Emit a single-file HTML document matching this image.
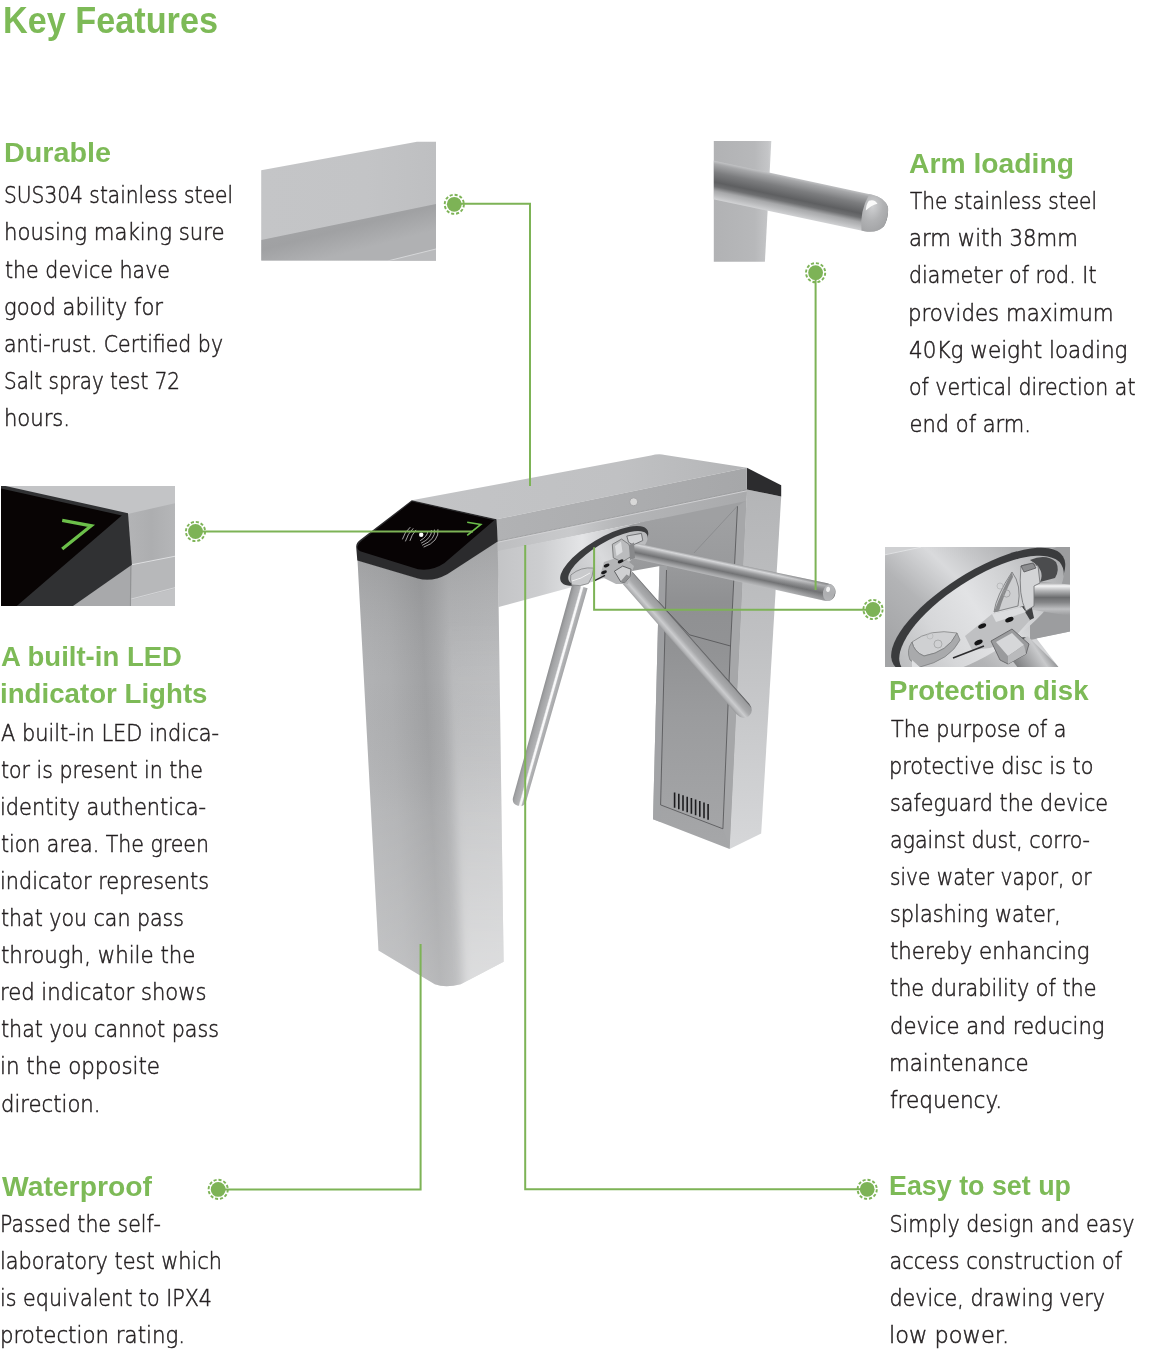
<!DOCTYPE html>
<html lang="en">
<head>
<meta charset="utf-8">
<title>Key Features</title>
<style>
html,body{margin:0;padding:0;background:#fff;}
body{width:1156px;height:1358px;overflow:hidden;position:relative;font-family:"Liberation Sans",sans-serif;}
svg.page{position:absolute;left:0;top:0;display:block;}
.txt{will-change:transform;}
.txt text{font-family:"Liberation Sans",sans-serif;}
text.t{font-weight:bold;font-size:36.5px;fill:#7dba57;}
text.h{font-weight:bold;font-size:27.4px;fill:#7dba57;}
text.b{font-family:"DejaVu Sans Light","Liberation Sans",sans-serif;font-size:22.5px;fill:#231f20;stroke:#231f20;stroke-width:0.5px;}
</style>
</head>
<body>

<svg class="page" width="1156" height="1358" viewBox="0 0 1156 1358">
<defs>
<linearGradient id="gTop" gradientUnits="userSpaceOnUse" x1="420" y1="0" x2="750" y2="0"><stop offset="0" stop-color="#c3c4c6"/><stop offset="0.6" stop-color="#c0c1c3"/><stop offset="1" stop-color="#b4b5b7"/></linearGradient>
<linearGradient id="gFront" gradientUnits="userSpaceOnUse" x1="497" y1="0" x2="747" y2="0"><stop offset="0" stop-color="#b1b2b4"/><stop offset="0.5" stop-color="#acadaf"/><stop offset="1" stop-color="#a6a7a9"/></linearGradient>
<linearGradient id="gLip" gradientUnits="userSpaceOnUse" x1="497" y1="0" x2="747" y2="0"><stop offset="0" stop-color="#bdbec0"/><stop offset="0.3" stop-color="#c9cacc"/><stop offset="0.5" stop-color="#b4b5b7"/><stop offset="1" stop-color="#a9aaac"/></linearGradient>
<linearGradient id="gCham" gradientUnits="userSpaceOnUse" x1="497" y1="0" x2="747" y2="0"><stop offset="0" stop-color="#c3c4c6"/><stop offset="0.18" stop-color="#cdced0"/><stop offset="0.34" stop-color="#e4e5e7"/><stop offset="0.44" stop-color="#d0d1d3"/><stop offset="0.56" stop-color="#a8a9ab"/><stop offset="1" stop-color="#98999b"/></linearGradient>
<linearGradient id="gInner" gradientUnits="userSpaceOnUse" x1="0" y1="520" x2="0" y2="850"><stop offset="0" stop-color="#9fa0a2"/><stop offset="0.12" stop-color="#9a9b9d"/><stop offset="0.25" stop-color="#8f9092"/><stop offset="0.4" stop-color="#929395"/><stop offset="0.6" stop-color="#9b9c9e"/><stop offset="1" stop-color="#a6a7a9"/></linearGradient>
<linearGradient id="gRight" gradientUnits="userSpaceOnUse" x1="0" y1="490" x2="0" y2="850"><stop offset="0" stop-color="#b4b5b7"/><stop offset="0.4" stop-color="#bfc0c2"/><stop offset="1" stop-color="#d6d7d9"/></linearGradient>
<linearGradient id="gLP" gradientUnits="userSpaceOnUse" x1="358" y1="760" x2="503" y2="752.75"><stop offset="0" stop-color="#b3b4b6"/><stop offset="0.25" stop-color="#adaeb0"/><stop offset="0.49" stop-color="#a0a1a3"/><stop offset="0.58" stop-color="#a8a9ab"/><stop offset="0.68" stop-color="#b5b6b8"/><stop offset="1" stop-color="#b9babc"/></linearGradient>
<linearGradient id="gLPv" gradientUnits="userSpaceOnUse" x1="0" y1="545" x2="0" y2="990"><stop offset="0" stop-color="#000" stop-opacity="0.11"/><stop offset="0.3" stop-color="#777" stop-opacity="0"/><stop offset="0.6" stop-color="#fff" stop-opacity="0.09"/><stop offset="1" stop-color="#fff" stop-opacity="0.24"/></linearGradient>
<linearGradient id="gLPv2" gradientUnits="userSpaceOnUse" x1="0" y1="620" x2="0" y2="990"><stop offset="0" stop-color="#fff" stop-opacity="0"/><stop offset="1" stop-color="#fff" stop-opacity="0.4"/></linearGradient>
<filter id="fBlur5" x="-20%" y="-5%" width="140%" height="110%"><feGaussianBlur stdDeviation="5 2"/></filter>
<clipPath id="cLP"><path d="M357.3 556L378.5 950.4L434.8 984.2Q445.5 988.5 460.7 984.2L503.6 961.7L497.7 541L447.3 573.8Q432 582 417.9 578.1L357.3 560Z"/></clipPath>
<linearGradient id="gTube" x1="0" y1="0" x2="0" y2="1"><stop offset="0" stop-color="#b5b6b8"/><stop offset="0.18" stop-color="#8b8c8e"/><stop offset="0.45" stop-color="#6a6b6d"/><stop offset="0.62" stop-color="#5c5d5f"/><stop offset="0.78" stop-color="#9c9d9f"/><stop offset="1" stop-color="#c8c9cb"/></linearGradient>
<linearGradient id="gTube1" x1="0" y1="0" x2="0" y2="1"><stop offset="0" stop-color="#8f9092"/><stop offset="0.16" stop-color="#d6d7d9"/><stop offset="0.36" stop-color="#9b9c9e"/><stop offset="0.6" stop-color="#727375"/><stop offset="0.84" stop-color="#a3a4a6"/><stop offset="1" stop-color="#bcbdbf"/></linearGradient>
<linearGradient id="gTube1e" gradientUnits="userSpaceOnUse" x1="150" y1="0" x2="205" y2="0"><stop offset="0" stop-color="#6e6f71" stop-opacity="0"/><stop offset="1" stop-color="#6e6f71" stop-opacity="0.45"/></linearGradient>
<linearGradient id="gTube2" x1="0" y1="0" x2="0" y2="1"><stop offset="0" stop-color="#a2a3a5"/><stop offset="0.24" stop-color="#b4b5b7"/><stop offset="0.31" stop-color="#f8f8f9"/><stop offset="0.4" stop-color="#f8f8f9"/><stop offset="0.48" stop-color="#b2b3b5"/><stop offset="0.8" stop-color="#a2a3a5"/><stop offset="1" stop-color="#8b8c8e"/></linearGradient>
<linearGradient id="gTube3" x1="0" y1="0" x2="0" y2="1"><stop offset="0" stop-color="#47484a"/><stop offset="0.1" stop-color="#9a9b9d"/><stop offset="0.45" stop-color="#a9aaac"/><stop offset="0.7" stop-color="#cbccce"/><stop offset="0.88" stop-color="#b2b3b5"/><stop offset="1" stop-color="#98999b"/></linearGradient>
<linearGradient id="gDisk" x1="0" y1="0.5" x2="1" y2="0.5"><stop offset="0" stop-color="#c2c3c5"/><stop offset="0.45" stop-color="#d9dadc"/><stop offset="1" stop-color="#b6b7b9"/></linearGradient>
</defs>

<!-- ===== main turnstile ===== -->
<g id="turnstile">
<!-- right post -->
<path d="M746.9 489.5L781.2 496.4L761.2 833.6L729.6 848.9Z" fill="url(#gRight)"/>
<path d="M640 520L746.9 489.5L729.6 848.9L653 819.2L659.5 566L640 566Z" fill="url(#gInner)"/>
<path d="M659.5 566L653 819.2L660.5 822L667 566Z" fill="#a3a4a6" opacity="0.7"/>

<g stroke="#1c1c1e" stroke-width="1.6">
<path d="M674.6 792.4V807.7M678.8 793.8V809.2M683 795.3V810.7M687.2 796.7V812.2M691.4 798.1V813.7M695.6 799.6V815.2M699.8 801V816.7M704 802.5V818.3M708.1 803.9V819.8"/>
</g>
<!-- black cap -->
<path d="M746.9 467.7L781.2 485.2L781.2 496.4L746.9 489.5Z" fill="#2c2c2e"/>
<!-- beam -->
<path d="M411.8 500.3L651 455.5Q658 453.6 665 454.9L746.9 467.7L496.6 519.3Z" fill="url(#gTop)"/>
<path d="M496.6 519.3L746.9 467.7L746.9 489.7L497.4 541.2Z" fill="url(#gFront)"/>
<path d="M497.4 541.2L746.9 489.7L746 501L497.6 552Z" fill="url(#gLip)"/>
<path d="M497.6 551L646.6 521.5L646.6 566L629.4 571.4L498.6 607Z" fill="url(#gCham)"/>
<path d="M630 525L661 518.5L660 566L629.4 571.4L618 560Z" fill="url(#gInner)"/>
<path d="M497.4 541.3L746.9 489.8" stroke="#8e8f91" stroke-width="0.7" fill="none"/><path d="M497.4 542.3L746.9 490.8" stroke="#d2d3d5" stroke-width="0.9" fill="none"/>
<circle cx="633.7" cy="501.8" r="4" fill="#d8d8d8" stroke="#9a9b9d" stroke-width="0.8"/>
<path d="M737.5 506L746.3 500.6L729.6 848.9L722.9 828.8L730.5 646Z" fill="#a6a7a9"/>
<g fill="none" stroke="#505153" stroke-width="0.8">
<path d="M666.5 570L660.6 804.9L722.9 828.8L730.5 646L737.5 506"/>
<path d="M656.8 600L689.4 634.8L730.5 646"/>
<path d="M737.5 506L694 553" stroke="#88898b"/>
</g>

<!-- disk -->
<g transform="translate(604.2 555.8) rotate(-30.9)">
<ellipse rx="50.3" ry="17.5" fill="#3b3c3e"/>
<ellipse cx="2.2" cy="3.6" rx="45.4" ry="15.2" fill="url(#gDisk)"/>
</g>
<!-- arm 2 (down-left) -->
<g transform="translate(580 586) rotate(105.8)">
<path d="M0 -7.9L222 -6.8Q228.5 -6.3 228.5 0Q228.5 6.3 222 6.8L0 7.9Z" fill="url(#gTube2)"/>
</g>
<!-- arm 3 (down-right) -->
<g transform="translate(626.8 577) rotate(48.66)">
<path d="M0 -7.7L176 -8.2Q185 -7.6 185 0Q185 7.6 176 8.2L0 7.7Z" fill="url(#gTube3)"/>
</g>
<!-- arm 1 (right) -->
<g transform="translate(631 549.8) rotate(12.2)">
<path d="M0 -7.8L199 -8.8Q209 -8.5 209 0Q209 8.5 199 8.8L0 7.8Z" fill="url(#gTube1)"/>
<path d="M150 -8.6L199 -8.8Q209 -8.5 209 0Q209 8.5 199 8.8L150 8.6Z" fill="url(#gTube1e)"/>
<ellipse cx="202.5" cy="0" rx="6" ry="8.3" fill="#b9babc" opacity="0.85"/>
<ellipse cx="201" cy="-3" rx="2" ry="2.6" fill="#f2f2f2"/>
</g>
<!-- hub -->
<g stroke-linejoin="round">
<path d="M604 562L622 556L634 566L628 584L616 584L600 576Z" fill="#b4b5b7"/>
<path d="M612.3 544.3L621.6 539.1L628.9 544.3L632 556L622 562L613.3 557.8Z" fill="#bbbcbe" stroke="#6c6d6f" stroke-width="0.8"/>
<path d="M615 546L621 541.5L622.5 552L616.5 556Z" fill="#dcdddf"/>
<path d="M626.8 536L641.4 533.4L642.8 540.5L633 545L628.5 542.2Z" fill="#d2d3d5" stroke="#5c5d5f" stroke-width="0.8"/>
<path d="M629 545L634 542.5L635 558L630 560Z" fill="#88898b"/>
<path d="M614.4 571.2L622.7 566.1L631 569.2L630 576.4L624.7 582.7L620.6 581.6Z" fill="#cfd0d2" stroke="#4a4b4d" stroke-width="0.8"/>
<path d="M620.6 581.6L624.7 582.7L630 576.4L626.5 574.5Z" fill="#8e8f91"/>
<ellipse cx="606.6" cy="565.5" rx="3.1" ry="1.6" fill="#19191b" transform="rotate(-25 606.6 565.5)"/>
<ellipse cx="620.6" cy="561.4" rx="3.1" ry="1.6" fill="#19191b" transform="rotate(-25 620.6 561.4)"/>
<ellipse cx="604" cy="572.3" rx="3.1" ry="1.6" fill="#19191b" transform="rotate(-25 604 572.3)"/>
<path d="M570.8 575Q581 566.5 593.6 568.1Q593 577 588.4 583.5Q580 587 571.8 585Q569.8 580 570.8 575Z" fill="#c9cacc" stroke="#77787a" stroke-width="0.7"/>
<path d="M572 581Q581 579 590 573" fill="none" stroke="#f0f0f0" stroke-width="1"/>
<path d="M594.6 580.6L605 575.4" stroke="#2a2a2c" stroke-width="1.3" fill="none"/>
</g>
<!-- left post -->
<path d="M357.3 556L378.5 950.4L434.8 984.2Q445.5 988.5 460.7 984.2L503.6 961.7L497.7 541L447.3 573.8Q432 582 417.9 578.1L357.3 560Z" fill="url(#gLP)"/>
<path d="M357.3 556L378.5 950.4L434.8 984.2Q445.5 988.5 460.7 984.2L503.6 961.7L497.7 541L447.3 573.8Q432 582 417.9 578.1L357.3 560Z" fill="url(#gLPv)"/>
<g clip-path="url(#cLP)"><path d="M445 578L464 1000L520 1000L510 530Z" fill="url(#gLPv2)" filter="url(#fBlur5)"/></g>
<!-- bezel + black panel -->
<path d="M411.8 500.3L496.6 519.3L497.7 541.4L447.3 574.2Q432 582.5 417.9 578.5L357.3 560.4L356.2 547Q356 543 360 540Z" fill="#2b2b2d"/>
<path d="M412 501.6L494.2 520.2L444.5 563Q432 571.5 418 569.2L361 551.6Q355.8 549.5 358.2 545Q359.5 542.5 362 540.6Z" fill="#070304"/>
<!-- rfid icon -->
<g fill="none" stroke="#e8e8e8" stroke-width="0.7" stroke-linecap="round">
<circle cx="421.2" cy="534.8" r="2.2" fill="#fff" stroke="none"/>
<path d="M415.8 530.2Q411.5 535 410 540.5M413 528.6Q407.5 534 405.5 541M410 527.4Q404.5 532 402.5 539"/>
<path d="M427.8 531.5Q427.5 536.5 420.5 540.5M431.5 530.5Q432 538 421.5 543M434.5 530Q436 539.5 422.5 545.2M438 529.6Q439.5 541.5 424 547"/>
</g>
<path d="M467.2 522.2L480.8 524.4L467.2 535.4" fill="none" stroke="#6bbf4a" stroke-width="1.6"/>
</g>

<defs>
<clipPath id="cDur"><path d="M261.2 170.2L417 141.8L436 141.8L436 260.6L261.2 260.6Z"/></clipPath>
<linearGradient id="gDurTop" gradientUnits="userSpaceOnUse" x1="261" y1="0" x2="436" y2="0"><stop offset="0" stop-color="#c4c5c7"/><stop offset="0.6" stop-color="#c3c4c6"/><stop offset="1" stop-color="#bebfc1"/></linearGradient>
<linearGradient id="gDurFr" gradientUnits="userSpaceOnUse" x1="300" y1="215" x2="312" y2="262"><stop offset="0" stop-color="#a4a5a7"/><stop offset="0.5" stop-color="#a0a1a3"/><stop offset="1" stop-color="#b0b1b3"/></linearGradient>
<linearGradient id="gArmBox" gradientUnits="userSpaceOnUse" x1="714" y1="0" x2="772" y2="0"><stop offset="0" stop-color="#b1b2b4"/><stop offset="0.7" stop-color="#b7b8ba"/><stop offset="0.93" stop-color="#c4c5c7"/><stop offset="1" stop-color="#d0d1d3"/></linearGradient>
<linearGradient id="gArmT" x1="0" y1="0" x2="0" y2="1"><stop offset="0" stop-color="#c3c4c6"/><stop offset="0.08" stop-color="#a6a7a9"/><stop offset="0.3" stop-color="#7c7d7f"/><stop offset="0.55" stop-color="#5e5f61"/><stop offset="0.66" stop-color="#6e6f71"/><stop offset="0.78" stop-color="#a7a8aa"/><stop offset="0.92" stop-color="#c2c3c5"/><stop offset="1" stop-color="#d2d3d5"/></linearGradient>
<radialGradient id="gArmCap" cx="0.35" cy="0.3" r="0.8"><stop offset="0" stop-color="#cfd0d2"/><stop offset="0.5" stop-color="#b1b2b4"/><stop offset="1" stop-color="#a0a1a3"/></radialGradient>
</defs>
<!-- Durable thumbnail -->
<g clip-path="url(#cDur)">
<rect x="261" y="141" width="176" height="120" fill="url(#gDurTop)"/>
<path d="M261.2 239.9L436 204L436 261L261.2 261Z" fill="url(#gDurFr)"/>
<path d="M388.4 261L436 249.2L436 261Z" fill="#b9babc"/>
<path d="M388.4 260.8L436 249" stroke="#d6d7d9" stroke-width="1" fill="none"/>
</g>
<!-- Arm thumbnail -->
<path d="M713.8 140.9L771.3 140.9L764.9 261.8L713.8 261.8Z" fill="url(#gArmBox)"/>
<clipPath id="cArm"><rect x="713.8" y="130" width="190" height="140"/></clipPath>
<g clip-path="url(#cArm)"><g transform="translate(713.8 180) rotate(12.05)">
<path d="M-6 -19L158 -18.6Q170 -18.6 176 -10Q179 0 176 10Q170 18.6 158 18.6L-6 19Z" fill="url(#gArmT)"/>
<path d="M155 -18.6Q149 0 155 18.6L158 18.6Q170 18.6 176 10Q179 0 176 -10Q170 -18.6 158 -18.6Z" fill="url(#gArmCap)"/>
<path d="M156 -12Q161 -15 165 -11Q159 -8 155 -2Q154 -8 156 -12Z" fill="#fafafa"/>
</g></g>
<!-- LED thumbnail -->
<defs>
<clipPath id="cLed"><rect x="1" y="486" width="174.1" height="120"/></clipPath>
<linearGradient id="gLedR" gradientUnits="userSpaceOnUse" x1="128" y1="0" x2="175" y2="0"><stop offset="0" stop-color="#b3b4b6"/><stop offset="0.5" stop-color="#adaeb0"/><stop offset="1" stop-color="#b5b6b8"/></linearGradient>
</defs>
<g clip-path="url(#cLed)">
<rect x="1" y="486" width="175" height="120" fill="#c3c4c6"/>
<!-- right panel -->
<path d="M127.5 514L175.2 503.2L175.2 606L127.5 606Z" fill="url(#gLedR)"/>
<path d="M131.5 565.5L175.2 557L175.2 606L130.5 606Z" fill="#b7b8ba"/>
<path d="M130.5 600L175.2 588.4L175.2 606L130.5 606Z" fill="#c2c3c5"/>
<path d="M131.7 564.8L175.2 556.2" stroke="#dedfe1" stroke-width="1.1" fill="none"/>
<path d="M130.5 599.2L175.2 587.6" stroke="#d4d5d7" stroke-width="1" fill="none"/>
<!-- under bevel grey -->
<path d="M72.3 606L131.7 564.5L131 606Z" fill="#a8a9ab"/>
<path d="M130.8 565L130.4 606" stroke="#8a8b8d" stroke-width="0.8" fill="none"/>
<!-- bevel -->
<path d="M1 485L128 513.2L131.9 564.8L72.3 606.5L1 606.5Z" fill="#303133"/>
<!-- black glass -->
<path d="M1 488.6L121.8 515.4L16.2 606.5L1 606.5Z" fill="#080404"/>
<path d="M62.2 520.3L91.2 525.8L62.2 549" fill="none" stroke="#6cc04a" stroke-width="3.3" stroke-linejoin="miter"/>
</g>
<!-- Disk thumbnail -->
<defs>
<clipPath id="cDisk"><path d="M885 547L1070 547L1070 631.5L1036.5 638.5L1058.5 667L885 667Z"/></clipPath>
<linearGradient id="gDkBg" gradientUnits="userSpaceOnUse" x1="900" y1="660" x2="1010" y2="545"><stop offset="0" stop-color="#a3a4a6"/><stop offset="0.35" stop-color="#b3b4b6"/><stop offset="0.62" stop-color="#d9dadc"/><stop offset="0.8" stop-color="#c4c5c7"/><stop offset="1" stop-color="#b0b1b3"/></linearGradient>
<linearGradient id="gDkIn" x1="0" y1="0.5" x2="1" y2="0.5"><stop offset="0" stop-color="#bcbdbf"/><stop offset="0.25" stop-color="#d6d7d9"/><stop offset="0.5" stop-color="#e2e3e5"/><stop offset="0.75" stop-color="#cdced0"/><stop offset="1" stop-color="#acadaf"/></linearGradient>
<linearGradient id="gDkA1" gradientUnits="userSpaceOnUse" x1="0" y1="582" x2="0" y2="615"><stop offset="0" stop-color="#98999b"/><stop offset="0.12" stop-color="#f4f4f5"/><stop offset="0.27" stop-color="#b2b3b5"/><stop offset="0.47" stop-color="#6c6d6f"/><stop offset="0.62" stop-color="#858688"/><stop offset="0.82" stop-color="#bebfc1"/><stop offset="1" stop-color="#9d9ea0"/></linearGradient>
<linearGradient id="gDkA3" gradientUnits="userSpaceOnUse" x1="1012" y1="658" x2="1040" y2="640"><stop offset="0" stop-color="#7f8082"/><stop offset="0.4" stop-color="#a6a7a9"/><stop offset="0.75" stop-color="#c9cacc"/><stop offset="1" stop-color="#9a9b9d"/></linearGradient>
</defs>
<g clip-path="url(#cDisk)">
<rect x="885" y="547" width="186" height="121" fill="url(#gDkBg)"/>
<path d="M885 554.5L920.5 547L885 547Z" fill="#cfd0d2"/>
<path d="M885 554.8L921 547.2" stroke="#e6e7e9" stroke-width="0.8" fill="none"/>
<!-- underside region right -->
<path d="M1030 560L1071 540L1071 632L1030 640Z" fill="#9c9d9f"/>
<!-- ring -->
<g transform="translate(978.2 610.4) rotate(-32.6)"><ellipse rx="100.5" ry="37.6" fill="#3a3b3d"/></g>
<g transform="translate(981.5 616) rotate(-32.9)"><ellipse rx="95" ry="37" fill="url(#gDkIn)"/></g>
<!-- arm 3 tube -->
<ellipse cx="1019" cy="647" rx="13" ry="8" fill="#48494b" transform="rotate(-32 1019 647)"/>
<path d="M1027.6 636L1060 668L1018 668L1006 652Z" fill="url(#gDkA3)"/>
<!-- arm 1 tube -->
<path d="M1031 581L1071 584.5L1071 616.2L1028 609Z" fill="url(#gDkA1)"/>
<!-- shadows -->
<path d="M1030 560Q1046 553 1056 562Q1060 570 1055 578L1040 582Q1046 570 1030 560Z" fill="#4b4c4e"/>
<path d="M1020 607L1031 604L1034 618L1024 623Z" fill="#3f4042"/>
<!-- collar -->
<path d="M1021 566Q1030 562 1038 566L1040 583L1034 586L1034 606L1026 611Q1018 596 1021 566Z" fill="#d3d4d6" stroke="#77787a" stroke-width="0.9"/>
<path d="M1021 566L1033 563L1036 568L1024 572Z" fill="#8d8e90" stroke="#4a4b4d" stroke-width="0.7"/>
<!-- triangle piece -->
<path d="M1012 572Q1022 585 1018 606L994 612Q996 596 1012 572Z" fill="#cdced0" stroke="#7c7d7f" stroke-width="0.9"/>
<path d="M1012 572Q1002 590 994 612L999 611Q1004 594 1013 577Z" fill="#88898b"/>
<circle cx="1006.5" cy="593.5" r="3.6" fill="none" stroke="#9a9b9d" stroke-width="0.8"/>
<circle cx="1000" cy="586" r="3" fill="none" stroke="#b0b1b3" stroke-width="0.7"/>
<!-- central plate -->
<path d="M965 636L992 614L1022 607L1030 620L1012 640L990 648L972 650Z" fill="#bfc0c2"/>
<path d="M992 614L1022 607L1026 612L996 622Z" fill="#dcdddf"/>
<!-- holes -->
<ellipse cx="982.2" cy="626" rx="4.2" ry="2.3" fill="#161617" transform="rotate(-24 982.2 626)"/>
<ellipse cx="1009.4" cy="619.7" rx="4.4" ry="2.3" fill="#161617" transform="rotate(-24 1009.4 619.7)"/>
<ellipse cx="978.5" cy="642.4" rx="4.4" ry="2.4" fill="#161617" transform="rotate(-24 978.5 642.4)"/>
<!-- square bracket -->
<path d="M991 641L1012 629L1029 644L1026 654L1008 664L1000 660Z" fill="#9a9b9d" stroke="#5a5b5d" stroke-width="0.8"/>
<path d="M996 642L1012 633L1024 645L1008 656Z" fill="#d6d7d9"/>
<path d="M1008 656L1024 645L1026 654L1008 664Z" fill="#b9babc"/>
<!-- dome bottom-left -->
<path d="M912 642Q930 628 957 633Q948 652 924 656Q914 652 912 642Z" fill="#cfd0d2" stroke="#8c8d8f" stroke-width="0.9"/>
<path d="M912 642Q914 652 924 656Q948 652 957 633L960 640Q950 660 920 667L910 660Q906 650 912 642Z" fill="#a9aaac" stroke="#77787a" stroke-width="0.7"/>
<circle cx="938" cy="644" r="4" fill="none" stroke="#a2a3a5" stroke-width="0.8"/>
<circle cx="930" cy="636" r="3" fill="none" stroke="#b5b6b8" stroke-width="0.7"/>
<path d="M953 658L984 646" stroke="#2c2c2e" stroke-width="1.6" fill="none"/>
<path d="M912 660L920 667L912 667Z" fill="#e0e1e3"/>
</g>

<defs>
<g id="dot"><circle r="7.4" fill="#7db356"/><circle r="9.6" fill="none" stroke="#7db356" stroke-width="1.9" stroke-dasharray="3.1 1.927"/></g>
</defs>
<g fill="none" stroke="#7db356" stroke-width="2">
<path d="M454.3 203.8H530V486"/>
<path d="M815.6 272.7V590"/>
<path d="M195.5 531.6H473"/>
<path d="M873 609.7H594.1V547.2"/>
<path d="M218.2 1189.4H420.6V944"/>
<path d="M867.2 1189.3H525.2V545"/>
</g>
<use href="#dot" x="454.3" y="204.3"/>
<use href="#dot" x="815.6" y="272.7"/>
<use href="#dot" x="195.5" y="531.5"/>
<use href="#dot" x="873" y="609.5"/>
<use href="#dot" x="218.2" y="1189.4"/>
<use href="#dot" x="867.2" y="1189.3"/>

<g class="txt">
<text class="t" x="2.98" y="32.60" textLength="215.04" lengthAdjust="spacingAndGlyphs">Key Features</text>
<text class="h" x="3.98" y="162.40" textLength="107.03" lengthAdjust="spacingAndGlyphs">Durable</text>
<text class="b" x="3.99" y="203.40" textLength="229.02" lengthAdjust="spacingAndGlyphs">SUS304 stainless steel</text>
<text class="b" x="3.99" y="240.45" textLength="220.52" lengthAdjust="spacingAndGlyphs">housing making sure</text>
<text class="b" x="5.00" y="277.50" textLength="165.00" lengthAdjust="spacingAndGlyphs">the device have</text>
<text class="b" x="4.00" y="314.55" textLength="159.00" lengthAdjust="spacingAndGlyphs">good ability for</text>
<text class="b" x="4.00" y="351.60" textLength="219.01" lengthAdjust="spacingAndGlyphs">anti-rust. Certified by</text>
<text class="b" x="3.99" y="388.65" textLength="176.02" lengthAdjust="spacingAndGlyphs">Salt spray test 72</text>
<text class="b" x="3.93" y="425.70" textLength="66.13" lengthAdjust="spacingAndGlyphs">hours.</text>
<text class="h" x="908.99" y="172.60" textLength="165.02" lengthAdjust="spacingAndGlyphs">Arm loading</text>
<text class="b" x="910.00" y="209.30" textLength="187.00" lengthAdjust="spacingAndGlyphs">The stainless steel</text>
<text class="b" x="908.99" y="246.40" textLength="169.02" lengthAdjust="spacingAndGlyphs">arm with 38mm</text>
<text class="b" x="909.00" y="283.40" textLength="187.50" lengthAdjust="spacingAndGlyphs">diameter of rod. It</text>
<text class="b" x="907.98" y="320.50" textLength="205.54" lengthAdjust="spacingAndGlyphs">provides maximum</text>
<text class="b" x="909.00" y="357.60" textLength="218.51" lengthAdjust="spacingAndGlyphs">40Kg weight loading</text>
<text class="b" x="909.00" y="394.70" textLength="226.50" lengthAdjust="spacingAndGlyphs">of vertical direction at</text>
<text class="b" x="909.49" y="431.80" textLength="121.54" lengthAdjust="spacingAndGlyphs">end of arm.</text>
<text class="h" x="1.00" y="666.40" textLength="181.00" lengthAdjust="spacingAndGlyphs">A built-in LED</text>
<text class="h" x="-0.02" y="703.40" textLength="207.53" lengthAdjust="spacingAndGlyphs">indicator Lights</text>
<text class="b" x="1.00" y="740.50" textLength="218.00" lengthAdjust="spacingAndGlyphs">A built-in LED indica-</text>
<text class="b" x="1.00" y="777.60" textLength="202.00" lengthAdjust="spacingAndGlyphs">tor is present in the</text>
<text class="b" x="-0.01" y="814.70" textLength="206.01" lengthAdjust="spacingAndGlyphs">identity authentica-</text>
<text class="b" x="1.00" y="851.80" textLength="208.01" lengthAdjust="spacingAndGlyphs">tion area. The green</text>
<text class="b" x="-0.01" y="888.90" textLength="209.02" lengthAdjust="spacingAndGlyphs">indicator represents</text>
<text class="b" x="1.00" y="926.00" textLength="183.01" lengthAdjust="spacingAndGlyphs">that you can pass</text>
<text class="b" x="1.00" y="963.10" textLength="194.51" lengthAdjust="spacingAndGlyphs">through, while the</text>
<text class="b" x="-0.02" y="1000.20" textLength="206.53" lengthAdjust="spacingAndGlyphs">red indicator shows</text>
<text class="b" x="1.00" y="1037.30" textLength="218.00" lengthAdjust="spacingAndGlyphs">that you cannot pass</text>
<text class="b" x="-0.02" y="1074.40" textLength="160.04" lengthAdjust="spacingAndGlyphs">in the opposite</text>
<text class="b" x="0.98" y="1111.50" textLength="99.55" lengthAdjust="spacingAndGlyphs">direction.</text>
<text class="h" x="2.00" y="1195.50" textLength="150.00" lengthAdjust="spacingAndGlyphs">Waterproof</text>
<text class="b" x="-0.01" y="1232.10" textLength="161.01" lengthAdjust="spacingAndGlyphs">Passed the self-</text>
<text class="b" x="-0.01" y="1269.20" textLength="222.03" lengthAdjust="spacingAndGlyphs">laboratory test which</text>
<text class="b" x="-0.01" y="1306.30" textLength="212.02" lengthAdjust="spacingAndGlyphs">is equivalent to IPX4</text>
<text class="b" x="-0.03" y="1343.40" textLength="185.07" lengthAdjust="spacingAndGlyphs">protection rating.</text>
<text class="h" x="889.00" y="700.40" textLength="199.50" lengthAdjust="spacingAndGlyphs">Protection disk</text>
<text class="b" x="891.00" y="736.60" textLength="175.50" lengthAdjust="spacingAndGlyphs">The purpose of a</text>
<text class="b" x="888.98" y="773.70" textLength="204.53" lengthAdjust="spacingAndGlyphs">protective disc is to</text>
<text class="b" x="890.00" y="810.80" textLength="218.00" lengthAdjust="spacingAndGlyphs">safeguard the device</text>
<text class="b" x="890.00" y="847.90" textLength="200.00" lengthAdjust="spacingAndGlyphs">against dust, corro-</text>
<text class="b" x="890.01" y="885.00" textLength="201.50" lengthAdjust="spacingAndGlyphs">sive water vapor, or</text>
<text class="b" x="889.99" y="922.20" textLength="171.02" lengthAdjust="spacingAndGlyphs">splashing water,</text>
<text class="b" x="890.00" y="959.30" textLength="199.50" lengthAdjust="spacingAndGlyphs">thereby enhancing</text>
<text class="b" x="890.00" y="996.40" textLength="206.50" lengthAdjust="spacingAndGlyphs">the durability of the</text>
<text class="b" x="890.00" y="1033.50" textLength="214.50" lengthAdjust="spacingAndGlyphs">device and reducing</text>
<text class="b" x="888.98" y="1070.60" textLength="139.54" lengthAdjust="spacingAndGlyphs">maintenance</text>
<text class="b" x="889.99" y="1107.70" textLength="112.04" lengthAdjust="spacingAndGlyphs">frequency.</text>
<text class="h" x="888.99" y="1195.00" textLength="182.02" lengthAdjust="spacingAndGlyphs">Easy to set up</text>
<text class="b" x="889.50" y="1232.00" textLength="245.00" lengthAdjust="spacingAndGlyphs">Simply design and easy</text>
<text class="b" x="889.51" y="1269.10" textLength="232.50" lengthAdjust="spacingAndGlyphs">access construction of</text>
<text class="b" x="889.50" y="1306.20" textLength="215.50" lengthAdjust="spacingAndGlyphs">device, drawing very</text>
<text class="b" x="888.95" y="1343.30" textLength="120.11" lengthAdjust="spacingAndGlyphs">low power.</text>
</g>
</svg>
</body>
</html>
